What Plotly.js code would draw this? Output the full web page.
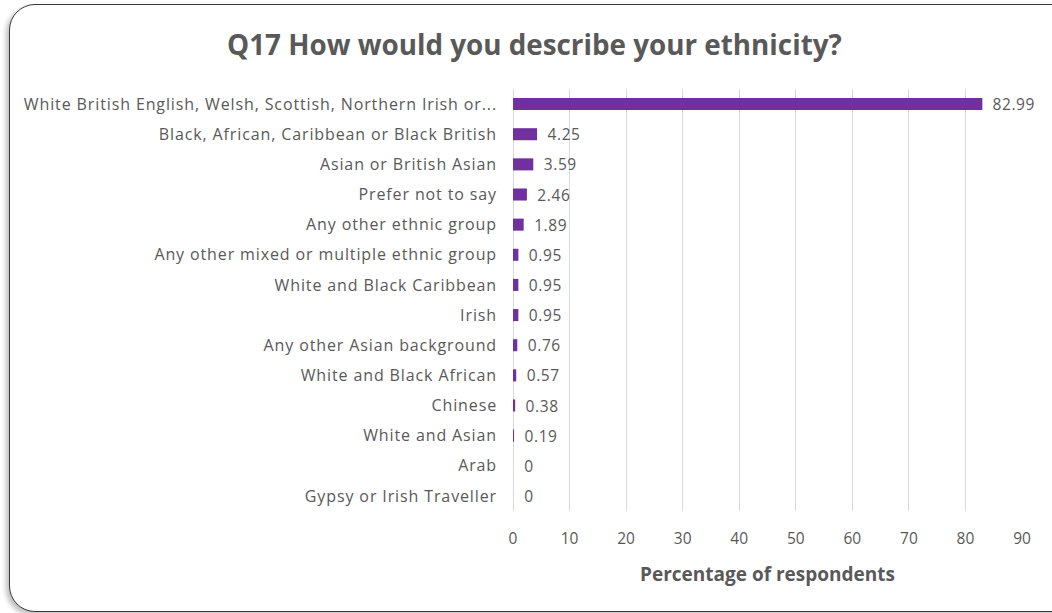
<!DOCTYPE html>
<html>
<head>
<meta charset="utf-8">
<script src="https://cdn.plot.ly/plotly-3.0.1.min.js"></script>
<style>
  html, body { margin: 0; padding: 0; background: #ffffff; overflow: hidden; }
  #frame {
    position: absolute; left: 9px; top: 4px; width: 1080px; height: 606px;
    border: 1.5px solid #3a3a3a; border-radius: 26px; background: #fff;
    box-shadow: -3px 3px 5px rgba(0,0,0,0.25);
  }
  #chart { position: absolute; left: 0; top: 0; width: 1052px; height: 613px; }
  #chart .ytick text { letter-spacing: 0.88px; }
  #chart .bartext { letter-spacing: 0.6px; }
</style>
</head>
<body>
<div id="frame"></div>
<div id="chart"></div>
<script>
const categories = [
  "White British English, Welsh, Scottish, Northern Irish or...",
  "Black, African, Caribbean or Black British",
  "Asian or British Asian",
  "Prefer not to say",
  "Any other ethnic group",
  "Any other mixed or multiple ethnic group",
  "White and Black Caribbean",
  "Irish",
  "Any other Asian background",
  "White and Black African",
  "Chinese",
  "White and Asian",
  "Arab",
  "Gypsy or Irish Traveller"
];
const percentages = [82.99, 4.25, 3.59, 2.46, 1.89, 0.95, 0.95, 0.95, 0.76, 0.57, 0.38, 0.19, 0, 0];
const xTicks = [0, 10, 20, 30, 40, 50, 60, 70, 80, 90];

const trace = {
  type: 'bar',
  orientation: 'h',
  y: categories,
  x: percentages,
  marker: { color: '#7030A0' },
  width: 0.4,
  text: percentages.map(v => String(v)),
  texttemplate: '  %{text}',
  textposition: 'outside',
  constraintext: 'none',
  cliponaxis: false,
  textfont: { family: '"Open Sans", sans-serif', size: 15.5, color: '#595959' },
  hoverinfo: 'none'
};

const layout = {
  width: 1052, height: 613,
  paper_bgcolor: 'rgba(0,0,0,0)',
  plot_bgcolor: 'rgba(0,0,0,0)',
  margin: { l: 513, r: 30, t: 89, b: 102 },
  showlegend: false,
  title: {
    text: '<b>Q17 How would you describe your ethnicity?</b>',
    x: 0.508, xanchor: 'center', y: 0.926, yanchor: 'middle',
    font: { family: '"Open Sans", sans-serif', size: 27.8, color: '#595959' }
  },
  xaxis: {
    range: [0, 90],
    tickvals: xTicks,
    ticktext: xTicks.map(String),
    showgrid: true, gridcolor: '#d9d9d9', gridwidth: 1,
    zeroline: true, zerolinecolor: '#d9d9d9', zerolinewidth: 1,
    showline: false,
    ticks: '', ticklabelstandoff: 16,
    tickfont: { family: '"Open Sans", sans-serif', size: 15.5, color: '#595959' },
    title: {
      text: '<b>Percentage of respondents</b>', standoff: 20,
      font: { family: '"Open Sans", sans-serif', size: 19, color: '#595959' }
    },
    fixedrange: true
  },
  yaxis: {
    type: 'category',
    autorange: 'reversed',
    showgrid: false, zeroline: false, showline: false,
    ticks: '', ticklabelstandoff: 15,
    tickfont: { family: '"Open Sans", sans-serif', size: 16, color: '#595959' },
    fixedrange: true
  }
};

Plotly.newPlot('chart', [trace], layout, { displayModeBar: false, staticPlot: true });
</script>
</body>
</html>
